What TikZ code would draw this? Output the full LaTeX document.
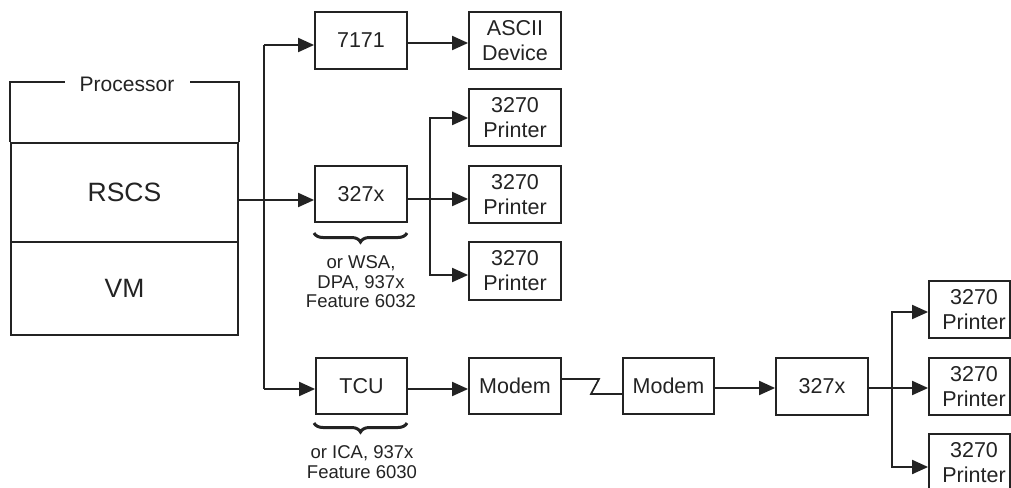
\documentclass[tikz,border=0pt]{standalone}
\usepackage{fontspec}
\setmainfont{Liberation Sans}
\usetikzlibrary{arrows.meta,decorations.pathreplacing}
\definecolor{ink}{RGB}{35,35,35}
\tikzset{
  box/.style={draw=ink, line width=1.8pt, minimum width=92pt, minimum height=57pt, inner sep=0pt, align=center, text=ink, font=\fontsize{21.5}{25}\selectfont},
  cutbox/.style={box, minimum width=81pt},
  conn/.style={draw=ink, line width=1.9pt},
  arr/.style={conn, -{Triangle[length=16pt,width=14pt]}},
  lbl/.style={text=ink, inner sep=0pt, align=center},
  brc/.style={draw=ink, line width=3pt, decorate, decoration={brace, amplitude=9pt}},
  captext/.style={lbl, font=\fontsize{18.5}{19.5}\selectfont}
}
\begin{document}
\begin{tikzpicture}[x=1pt,y=-1pt]
\useasboundingbox (0,0) rectangle (1011,487);
% processor
\node[box, minimum width=227pt, minimum height=99pt, font=\fontsize{26.5}{30}\selectfont] (rscs) at (124.5,192.5) {RSCS};
\node[box, minimum width=227pt, minimum height=93pt, font=\fontsize{26.5}{30}\selectfont] (vm) at (124.5,288.5) {\raisebox{-3pt}{VM}};
\node[lbl, font=\fontsize{21}{25}\selectfont] (proc) at (127,84) {Processor};
\coordinate (fl) at (65,82);
\coordinate (fr) at (190,82);
\draw[conn, line width=1.8pt] (rscs.north west) -- (rscs.north west |- fl) -- (fl);
\draw[conn, line width=1.8pt] (fr) -- (rscs.north east |- fr) -- (rscs.north east);
% boxes
\node[box] (a7171) at (361,40.5) {7171};
\node[box] (ascii) at (515,40.5) {ASCII\\Device};
\node[box, minimum height=56pt] (xa) at (361,194) {327x};
\node[box] (p1) at (515,117.5) {3270\\Printer};
\node[box] (p2) at (515,194.5) {3270\\Printer};
\node[box, minimum height=58pt] (p3) at (515,271) {3270\\Printer};
\node[box, minimum width=91pt, minimum height=56pt] (tcu) at (361.5,386) {TCU};
\node[box, minimum height=56pt] (m1) at (515,386) {Modem};
\node[box, minimum width=91pt, minimum height=56pt] (m2) at (668.5,386) {Modem};
\node[box] (xb) at (822,386.5) {327x};
\node[cutbox] (p4) at (969.5,309.5) {\hspace*{9pt}3270\\\hspace*{9pt}Printer};
\node[cutbox] (p5) at (969.5,386.5) {\hspace*{9pt}3270\\\hspace*{9pt}Printer};
\node[cutbox] (p6) at (969.5,462.5) {\hspace*{9pt}3270\\\hspace*{9pt}Printer};
% bus
\coordinate (btop) at (264,45);
\coordinate (bbot) at (264,389);
\coordinate (jr) at (264,200);
\draw[conn] (btop) -- (bbot);
\draw[arr] (btop) -- (a7171.west |- btop);
\draw[arr] (bbot) -- (tcu.west |- bbot);
\draw[arr] (rscs.east |- jr) -- (xa.west |- jr);
\coordinate (ya) at (0,43);
\draw[arr] (a7171.east |- ya) -- (ascii.west |- ya);
% printer fan 1
\coordinate (fa) at (430,199);
\coordinate (fa1) at (430,118);
\coordinate (fa3) at (430,275);
\draw[arr] (xa.east |- fa) -- (p2.west |- fa);
\draw[arr] (fa) -- (fa1) -- (p1.west |- fa1);
\draw[arr] (fa) -- (fa3) -- (p3.west |- fa3);
% bottom chain
\coordinate (yb) at (0,389);
\draw[arr] (tcu.east |- yb) -- (m1.west |- yb);
\coordinate (z1) at (599,379);
\coordinate (z2) at (591,394);
\draw[conn, line width=1.7pt] (m1.east |- z1) -- (z1) -- (z2) -- (m2.west |- z2);
\coordinate (yc) at (0,388);
\draw[arr] (m2.east |- yc) -- (xb.west |- yc);
% printer fan 2
\coordinate (fb) at (892,388);
\coordinate (fb1) at (892,312);
\coordinate (fb3) at (892,467);
\draw[arr] (xb.east |- fb) -- (p5.west |- fb);
\draw[arr] (fb) -- (fb1) -- (p4.west |- fb1);
\draw[arr] (fb) -- (fb3) -- (p6.west |- fb3);
% braces and captions
\coordinate (ba1) at (407,233);
\coordinate (ba2) at (314,233);
\draw[brc] (ba1) -- (ba2);
\node[captext] (capa) at (361,282) {or WSA,\\DPA, 937x\\Feature 6032};
\coordinate (bb1) at (407,423);
\coordinate (bb2) at (314,423);
\draw[brc] (bb1) -- (bb2);
\node[captext] (capb) at (362,462) {or ICA, 937x\\Feature 6030};
\end{tikzpicture}
\end{document}
